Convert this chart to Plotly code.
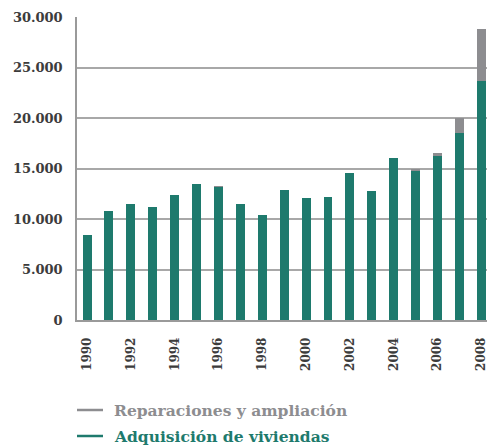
import plotly.graph_objects as go

years = list(range(1990, 2009))
adquisicion = [8400, 10800, 11450, 11150, 12400, 13450, 13180, 11450, 10400, 12900,
               12100, 12200, 14600, 12750, 16080, 14760, 16240, 18480, 23700]
reparaciones = [0, 0, 0, 0, 0, 0, 80, 0, 0, 0,
                0, 0, 0, 0, 0, 100, 270, 1550, 5120]
tick_years = list(range(1990, 2009, 2))
y_ticks = [0, 5000, 10000, 15000, 20000, 25000, 30000]
series_names = ["Reparaciones y ampliación", "Adquisición de viviendas"]

GREEN = "#1e7a6d"
GREY = "#8d8d90"
FONT = "DejaVu Serif"

fig = go.Figure()
fig.add_trace(go.Bar(x=years, y=adquisicion, marker=dict(color=GREEN, line=dict(width=0)),
                     width=0.41, name=series_names[1], showlegend=False))
fig.add_trace(go.Bar(x=years, y=reparaciones, marker=dict(color=GREY, line=dict(width=0)),
                     width=0.41, name=series_names[0], showlegend=False))

# legend drawn as line samples + coloured labels below the plot
PLOT_H = 303.0
PLOT_W = 410.0
for i, (name, col) in enumerate(zip(series_names, [GREY, GREEN])):
    ypx = 90 + 26 * i  # distance below the x axis in pixels
    yp = -ypx / PLOT_H
    fig.add_shape(type="line", xref="paper", yref="paper",
                  x0=0, x1=26 / PLOT_W, y0=yp, y1=yp,
                  line=dict(color=col, width=2.5))
    fig.add_annotation(xref="paper", yref="paper", x=35 / PLOT_W, y=yp,
                       xanchor="left", yanchor="middle", showarrow=False,
                       text=f"<b>{name}</b>",
                       font=dict(family=FONT, size=15.5, color=col))

fig.update_layout(
    width=487, height=447,
    margin=dict(l=77, r=0, t=17, b=127),
    barmode="stack",
    plot_bgcolor="white", paper_bgcolor="white",
    font=dict(family=FONT, color="#3c3c3c"),
    showlegend=False,
)
fig.update_xaxes(range=[1989.54, 2008.26], tickmode="array", tickvals=tick_years,
                 ticktext=[f"<b>{y}</b>" for y in tick_years], tickangle=-90,
                 tickfont=dict(family=FONT, size=12, color="#3c3c3c"),
                 showline=True, linecolor="#9a9a9a", linewidth=1.5, showgrid=False,
                 ticks="outside", ticklen=0, tickcolor="rgba(0,0,0,0)",
                 ticklabelstandoff=11, ticklabeloverflow="allow",
                 automargin=False)
fig.update_yaxes(range=[0, 30000], tickmode="array", tickvals=y_ticks,
                 ticktext=[f"<b>{v:,}</b>".replace(",", ".") for v in y_ticks],
                 tickfont=dict(family=FONT, size=13, color="#3c3c3c"),
                 showline=True, linecolor="#9a9a9a", linewidth=1.5,
                 showgrid=True, gridcolor="#a8a8a8", gridwidth=1.5, zeroline=False,
                 ticks="", ticklabelstandoff=10, automargin=False)

fig.write_html("out.html")
